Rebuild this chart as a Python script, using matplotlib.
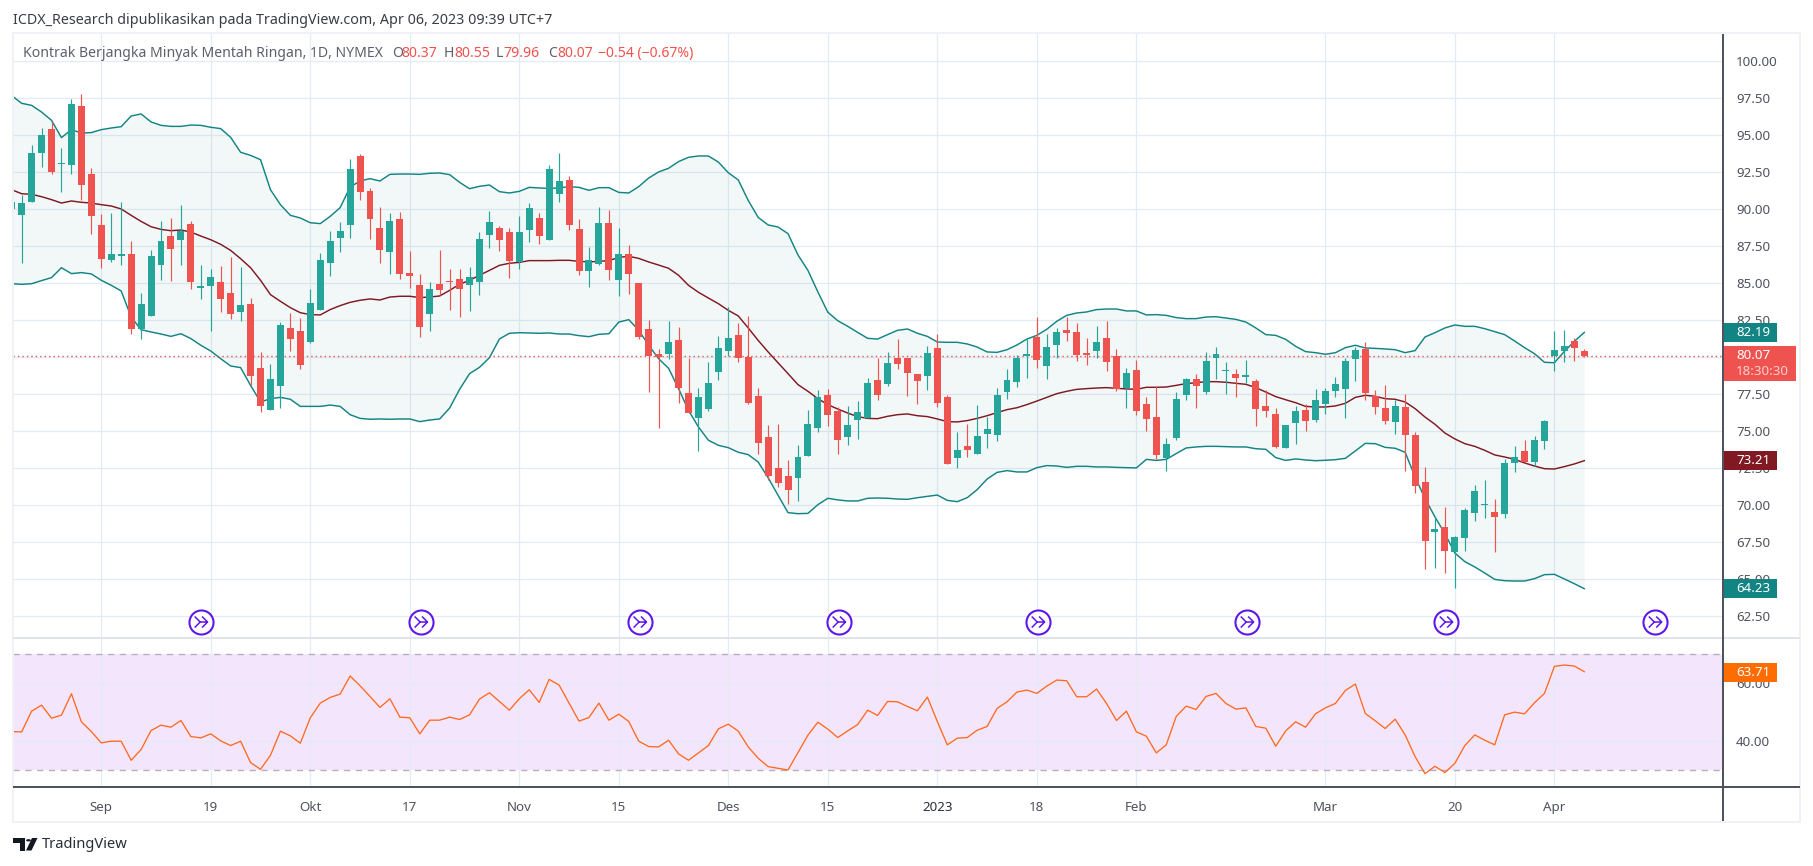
import matplotlib
matplotlib.use("Agg")
import matplotlib.pyplot as plt
from matplotlib.patches import Rectangle, Polygon, Circle
from matplotlib.path import Path

plt.rcParams['font.family'] = ['Noto Sans', 'DejaVu Sans']

# ---------- data ----------
opens = [89.95,89.55,90.47,93.74,95.36,93.0,92.93,96.91,92.32,88.87,86.51,86.78,86.91,81.85,82.72,86.17,88.13,87.86,88.94,84.64,
 84.75,85.02,84.28,83.0,83.54,79.21,76.37,77.99,81.91,81.71,80.97,83.13,86.31,87.99,88.87,93.54,91.17,88.67,87.05,89.28,
 85.63,84.82,82.86,84.89,85.1,85.23,84.82,85.02,88.2,88.67,88.4,86.37,88.54,89.35,87.86,90.97,91.91,88.6,85.77,86.24,
 89.01,85.16,86.91,84.95,81.85,80.2,80.16,81.1,77.52,75.83,76.44,78.94,80.37,81.45,79.96,77.32,74.55,72.46,71.93,71.77,
 73.27,75.2,77.39,76.3,74.55,75.7,75.83,78.4,78.13,79.89,79.89,78.81,78.67,80.56,77.25,73.13,73.94,73.4,74.75,74.68,
 77.59,78.27,80.02,81.31,79.35,80.77,81.78,81.65,80.23,80.4,81.24,80.03,77.86,79.08,76.78,75.9,73.13,74.48,77.39,78.47,
 77.59,79.89,79.01,78.81,78.6,78.33,76.64,76.1,73.8,75.5,76.37,75.7,76.78,77.66,77.79,79.82,80.5,77.32,76.51,75.56,
 76.58,74.68,71.51,68.13,68.47,66.78,67.73,69.41,69.98,69.48,69.35,72.79,73.6,72.86,74.28,80.05,80.36,81.04,80.37]
highs = [90.43,90.9,94.28,95.43,95.86,94.08,97.41,97.73,92.73,89.62,89.68,90.43,87.8,84.28,87.18,89.14,89.35,90.23,89.14,86.17,
 85.9,86.1,86.71,86.04,83.94,80.29,79.48,82.32,82.93,82.59,84.55,86.98,88.47,89.08,93.33,93.67,91.37,90.09,89.68,89.75,
 87.12,85.56,85.02,87.18,85.9,85.9,86.04,88.4,89.82,88.81,88.67,89.48,90.36,89.68,92.93,93.74,92.18,89.28,87.39,90.09,
 89.89,88.67,87.52,84.95,82.45,80.5,82.39,81.98,79.89,77.86,79.62,81.38,83.35,82.3,82.75,77.86,75.36,75.43,73.0,74.0,
 76.37,77.72,77.79,76.58,76.64,76.98,78.58,79.89,80.29,81.17,79.89,78.81,80.7,81.51,77.39,74.89,75.43,76.71,75.9,77.86,
 79.14,80.09,81.17,82.66,81.51,81.92,82.66,82.25,81.24,82.09,82.43,80.5,79.21,79.75,77.25,78.0,74.48,77.59,78.54,78.81,
 80.29,80.63,79.62,79.14,79.75,78.47,77.72,76.51,75.36,76.64,76.78,77.79,77.86,78.6,79.89,80.63,80.97,77.73,78.06,77.05,
 77.45,74.89,72.52,69.14,69.82,67.86,69.75,71.31,71.64,70.36,73.06,73.94,74.35,74.62,75.7,81.71,81.78,81.24,80.55]
lows = [89.95,86.3,90.45,92.79,92.32,91.1,92.32,90.56,88.27,85.97,86.4,86.17,81.53,81.17,82.72,85.16,85.09,86.17,84.55,83.87,
 81.71,83.0,82.52,82.39,78.06,76.24,76.37,76.51,80.36,79.14,80.9,83.13,85.43,87.05,88.0,90.56,87.93,86.3,85.56,85.23,
 84.62,81.31,81.71,84.14,83.13,82.66,83.06,84.14,87.32,87.12,85.29,85.9,87.73,87.59,87.86,90.43,88.54,85.5,84.68,86.17,
 85.16,84.08,84.21,81.17,77.59,75.2,79.82,76.84,76.17,73.6,76.3,78.4,80.03,79.62,76.77,73.4,71.64,71.17,70.02,70.22,
 73.27,74.9,75.29,73.4,74.0,74.41,75.83,77.05,78.0,79.14,77.32,76.78,77.73,76.58,72.73,72.45,73.2,73.4,73.85,74.28,
 77.12,77.93,78.54,79.22,78.48,79.89,81.05,79.68,79.41,79.89,79.0,77.66,76.51,76.03,74.95,73.06,72.25,74.35,77.05,76.51,
 77.45,78.47,77.45,77.25,78.2,75.29,75.9,73.8,73.8,74.08,74.95,75.56,76.1,77.25,75.83,78.33,77.05,76.1,75.43,74.75,
 72.25,70.77,65.63,65.7,65.36,64.35,66.85,68.87,69.08,66.78,69.08,72.18,72.86,72.59,73.74,79.0,79.62,79.68,79.96]
closes = [90.43,90.36,93.74,94.95,92.45,93.06,97.05,91.58,89.48,86.58,86.91,86.91,81.87,83.54,86.78,87.79,87.25,88.47,85.02,84.75,
 85.36,83.87,82.86,83.47,78.67,76.64,78.47,82.12,81.17,79.41,83.6,86.51,87.79,88.47,92.66,91.1,89.28,87.18,89.14,85.56,
 85.43,81.98,84.55,84.48,85.02,84.55,85.36,87.93,89.08,87.86,86.44,88.4,90.02,88.13,92.66,91.85,88.87,85.77,86.51,89.01,
 85.83,86.91,85.56,81.31,80.02,79.95,80.97,77.86,76.17,77.25,78.2,80.57,81.25,79.89,76.85,74.14,71.91,71.44,70.98,73.2,
 75.43,77.25,76.03,74.35,75.36,76.23,78.25,77.39,79.55,79.49,78.87,78.33,80.23,76.85,72.73,73.67,73.67,74.62,75.09,77.39,
 78.4,79.89,80.16,79.76,80.64,81.65,81.58,80.09,80.09,81.01,79.62,77.79,78.87,76.31,75.77,73.33,74.08,77.12,78.47,78.0,
 79.68,80.16,79.08,78.54,78.74,76.44,76.31,73.87,75.36,76.31,75.63,77.05,77.66,78.13,79.68,80.43,77.52,76.58,75.63,76.64,
 74.68,71.24,67.52,68.33,66.85,67.79,69.62,70.9,70.05,69.14,72.79,73.2,72.86,74.35,75.63,80.43,80.7,80.56,80.07]
bb_upper = [97.64,97.12,96.98,96.53,95.97,94.8,95.34,95.11,95.14,95.34,95.45,95.54,96.26,96.4,95.86,95.63,95.56,95.56,95.65,95.63,
 95.5,95.41,94.82,93.81,93.6,93.31,91.28,90.27,89.55,89.37,89.05,88.99,89.48,90.07,91.46,91.87,92.03,91.87,92.32,92.34,
 92.34,92.32,92.39,92.41,92.3,91.78,91.35,91.51,91.6,91.15,91.06,91.17,91.44,91.4,91.37,91.4,91.49,91.44,91.24,91.42,
 91.42,91.1,91.06,91.49,92.07,92.48,92.73,93.18,93.47,93.56,93.56,93.15,92.43,91.94,90.56,89.41,88.9,88.76,88.31,86.87,
 85.83,84.37,83.0,82.43,82.05,81.64,81.24,81.19,81.49,81.78,81.87,81.58,81.37,80.99,80.97,80.97,80.86,80.65,80.32,80.29,
 80.47,80.79,81.19,81.44,81.85,82.39,82.79,82.95,83.02,83.18,83.22,83.22,83.09,83.09,82.82,82.84,82.79,82.64,82.57,82.57,
 82.68,82.7,82.61,82.52,82.34,81.94,81.49,81.44,81.17,80.7,80.34,80.27,80.16,80.27,80.61,80.77,80.59,80.56,80.52,80.47,
 80.27,80.41,81.33,81.62,81.94,82.14,82.05,82.05,81.89,81.69,81.49,81.06,80.61,80.2,79.62,79.59,80.36,81.03,81.64]
bb_basis = [91.28,91.01,90.97,90.81,90.61,90.38,90.52,90.43,90.38,90.27,90.18,89.98,89.55,89.14,88.78,88.6,88.51,88.56,88.42,88.15,
 87.9,87.59,87.18,86.62,86.01,85.16,84.19,83.74,83.31,82.97,82.84,82.82,83.18,83.45,83.67,83.81,83.9,83.83,84.03,84.08,
 84.08,83.99,84.03,84.1,84.48,84.89,85.16,85.5,85.83,86.17,86.31,86.37,86.49,86.49,86.49,86.51,86.51,86.44,86.4,86.44,
 86.49,86.71,86.78,86.64,86.4,86.19,85.97,85.5,84.82,84.35,83.96,83.58,83.13,82.75,81.94,81.1,80.32,79.59,78.85,78.11,
 77.66,77.16,76.76,76.46,76.19,75.95,75.83,75.81,75.97,76.08,76.13,76.01,75.95,75.79,75.61,75.59,75.68,75.83,76.01,76.22,
 76.42,76.55,76.76,77.0,77.25,77.5,77.66,77.79,77.84,77.88,77.91,77.86,77.82,77.79,77.93,77.93,77.95,78.06,78.18,78.24,
 78.31,78.31,78.27,78.2,78.13,77.91,77.61,77.3,77.09,76.89,76.64,76.6,76.6,76.67,76.85,77.25,77.39,77.32,77.16,77.12,
 76.94,76.49,75.92,75.43,74.84,74.44,74.12,73.94,73.67,73.36,73.22,73.06,72.82,72.61,72.43,72.41,72.57,72.75,72.97]
bb_lower = [84.93,84.89,84.93,85.14,85.34,86.01,85.61,85.68,85.59,85.16,84.82,84.44,82.68,81.82,81.67,81.53,81.37,81.55,81.22,80.77,
 80.38,79.86,79.37,79.26,78.06,76.94,77.16,77.25,77.12,76.64,76.64,76.64,76.73,76.64,76.08,75.83,75.77,75.79,75.77,75.79,
 75.79,75.61,75.72,75.79,76.53,77.79,78.85,79.28,79.93,81.19,81.58,81.62,81.6,81.58,81.6,81.53,81.53,81.42,81.35,81.51,
 81.55,82.34,82.5,81.78,80.77,79.86,79.21,77.84,76.37,75.25,74.35,74.01,73.85,73.54,73.38,72.88,71.82,70.63,69.46,69.39,
 69.41,70.0,70.43,70.32,70.25,70.25,70.43,70.45,70.43,70.38,70.36,70.47,70.56,70.65,70.29,70.2,70.47,71.01,71.73,72.18,
 72.3,72.21,72.21,72.5,72.64,72.61,72.52,72.59,72.59,72.55,72.55,72.52,72.5,72.48,73.06,72.99,73.06,73.45,73.83,73.9,
 73.94,73.94,73.92,73.9,73.9,73.78,73.74,73.18,72.99,73.09,73.02,72.97,73.0,73.04,73.13,73.63,74.14,74.12,73.87,73.81,
 73.54,71.87,70.41,69.17,68.04,66.73,66.15,65.79,65.38,64.95,64.86,64.84,64.84,65.0,65.27,65.29,64.98,64.66,64.32]
rsi = [43.33,43.2,50.34,52.41,47.93,48.97,56.32,46.67,43.33,39.43,40.0,40.0,33.45,37.13,43.68,45.52,44.83,47.13,41.61,41.15,
 42.53,40.11,38.51,40.0,32.64,30.34,35.17,43.45,41.84,39.31,48.05,53.1,55.06,56.21,62.41,59.08,55.4,51.61,54.6,48.28,
 48.05,42.53,47.24,47.24,48.28,47.47,49.08,54.48,56.67,53.68,50.69,54.6,57.7,53.33,61.26,59.31,53.1,46.9,48.16,53.1,
 47.24,49.31,46.78,40.0,38.16,38.05,40.34,35.63,33.45,35.98,38.51,44.25,45.86,43.45,38.05,34.14,31.26,30.69,30.11,36.09,
 42.07,46.55,44.14,41.26,43.56,45.75,50.69,48.85,53.68,53.56,51.95,50.46,55.17,46.78,38.74,41.03,41.26,43.79,45.06,51.26,
 53.56,56.9,57.59,56.44,58.97,61.03,60.8,55.29,55.29,57.93,52.99,47.13,50.34,43.22,41.72,35.98,38.74,48.51,52.07,50.92,
 55.4,56.44,52.99,51.03,51.49,45.06,44.48,38.28,43.56,46.67,44.83,49.43,51.49,52.99,57.47,59.66,49.54,47.01,44.37,47.59,
 42.18,34.71,28.85,31.38,29.2,32.41,38.51,42.18,40.34,38.74,49.08,50.0,49.43,53.22,56.44,65.75,66.2,65.86,63.91]

price_ticks = [62.5, 65, 67.5, 70, 72.5, 75, 77.5, 80, 82.5, 85, 87.5, 90, 92.5, 95, 97.5, 100]
rsi_ticks = [40, 60]
rsi_bounds = [30, 70]
last_close = 80.07
time_tick_bars = [9, 20, 30, 40, 51, 61, 72, 82, 93, 103, 113, 132, 145, 155]
time_tick_labels = ['Sep', '19', 'Okt', '17', 'Nov', '15', 'Des', '15', '2023', '18', 'Feb', 'Mar', '20', 'Apr']
event_bars = [19.0, 41.1, 63.1, 83.1, 103.1, 124.1, 144.1, 165.1]
event_level = 62.07

for s in (highs, lows, closes, bb_upper, bb_basis, bb_lower, rsi):
    assert len(s) == len(opens), len(s)

# ---------- layout ----------
W, H = 1813, 866
fig = plt.figure(figsize=(W / 100, H / 100), dpi=100, facecolor='white')

def box(l, t, r, b):
    return [l / W, 1 - b / H, (r - l) / W, (b - t) / H]

def fx(x): return x / W
def fy(y): return 1 - y / H

GREEN, RED = '#26A69A', '#EF5350'
TEAL, MAROON, ORANGE = '#138484', '#801922', '#FF6A1F'
GRID, TXT = '#E3ECF2', '#50535E'
bar_px, x0_px = 9.953, 11.7
xlim = ((13 - x0_px) / bar_px, (1723 - x0_px) / bar_px)

ax = fig.add_axes(box(13, 33, 1723, 638))
ax2 = fig.add_axes(box(13, 638, 1723, 787), sharex=ax)
ax.set_xlim(*xlim)
ax.set_ylim(60.99, 101.87)
ax2.set_ylim(24.25, 75.5)

for a in (ax, ax2):
    for s in a.spines.values():
        s.set_visible(False)
    a.set_axisbelow(True)
    a.grid(True, color=GRID, lw=0.9)
    a.yaxis.tick_right()
    a.tick_params(length=0, labelcolor=TXT, labelsize=9.6)
    a.tick_params(axis='y', pad=9.4)

ax.set_yticks(price_ticks, [f'{v:.2f}' for v in price_ticks])
ax2.set_yticks(rsi_ticks, [f'{v:.2f}' for v in rsi_ticks])
ax.tick_params(axis='x', labelbottom=False)
ax2.tick_params(axis='x', pad=10, labelsize=9.6)
ax2.set_xticks(time_tick_bars, time_tick_labels)

idx = list(range(len(opens)))

# Bollinger bands
ax.fill_between(idx, bb_lower, bb_upper, color=TEAL, alpha=0.05, lw=0, zorder=1)
ax.plot(idx, bb_upper, color=TEAL, lw=1.05, zorder=2)
ax.plot(idx, bb_lower, color=TEAL, lw=1.05, zorder=2)
ax.plot(idx, bb_basis, color=MAROON, lw=1.05, zorder=2)

# last price line
ax.axhline(last_close, color=RED, lw=1.0, ls=(0, (1, 2.2)), zorder=2)

# candles
cols = [GREEN if c >= o else RED for o, c in zip(opens, closes)]
ax.vlines(idx, lows, highs, colors=cols, lw=0.85, zorder=3)
ax.bar(idx, [max(abs(c - o), 0.07) for o, c in zip(opens, closes)],
       bottom=[min(o, c) for o, c in zip(opens, closes)],
       width=0.7, color=cols, lw=0, zorder=4)

# events
fork = Path([(-0.5, 0.45), (-0.05, 0), (-0.5, -0.45), (0.1, 0.45), (0.55, 0), (0.1, -0.45), (-0.05, 0), (0.55, 0)],
            [Path.MOVETO, Path.LINETO, Path.LINETO, Path.MOVETO, Path.LINETO, Path.LINETO, Path.MOVETO, Path.LINETO])
ev_y = [event_level] * len(event_bars)
ax.scatter(event_bars, ev_y, s=300, facecolor='white', edgecolor='#5E17EB', lw=1.5, zorder=5)
ax.scatter(event_bars, ev_y, s=95, marker=fork, facecolor='none', edgecolor='#5E17EB', lw=1.1, zorder=6)

# RSI pane
ax2.axhspan(rsi_bounds[0], rsi_bounds[1], color='#9105EB', alpha=0.10, lw=0, zorder=0.5)
for b in rsi_bounds:
    ax2.axhline(b, color='#B9AEBF', lw=1.0, ls=(0, (4.5, 4)), zorder=2)
ax2.plot(idx, rsi, color=ORANGE, lw=0.95, zorder=3)

# the year label is bold, as in the reference
fig.canvas.draw()
for tick, name in zip(ax2.xaxis.get_major_ticks(), time_tick_labels):
    if name == '2023':
        tick.label1.set_fontweight('bold')
        tick.label1.set_color('#2A2E39')

# ---------- frame and separators ----------
def frect(l, t, r, b, **kw):
    p = Rectangle((fx(l), fy(b)), (r - l) / W, (b - t) / H, transform=fig.transFigure, **kw)
    fig.add_artist(p)
    return p

for (l, t, r, b) in [(12, 32, 1801, 34), (12, 821, 1801, 823), (12, 32, 14, 823), (1799, 32, 1801, 823)]:
    frect(l, t, r, b, color='#EFF1F6', lw=0, zorder=2)
frect(13, 637.3, 1800, 638.7, color='#E0E3EB', lw=0, zorder=2)
frect(1722.4, 34, 1723.6, 821, color='#50535E', lw=0, zorder=2)
frect(13, 786.4, 1800, 787.6, color='#50535E', lw=0, zorder=2)

# ---------- value labels ----------
def value_label(t, b, r, color, text):
    frect(1723.5, t, r, b, color=color, lw=0, zorder=5)
    fig.text(fx(1736), fy((t + b) / 2), text, color='white', fontsize=9.6, va='center', ha='left', zorder=6)

value_label(323, 342, 1777, TEAL, '82.19')
value_label(451, 470, 1777, MAROON, '73.21')
value_label(579, 598, 1777, TEAL, '64.23')
value_label(663, 682, 1777, '#FF6D00', '63.71')
frect(1723.5, 346, 1796, 381, color=RED, lw=0, zorder=5)
fig.text(fx(1736), fy(355.5), '80.07', color='white', fontsize=9.6, va='center', ha='left', zorder=6)
fig.text(fx(1736), fy(372), '18:30:30', color='#FAD0CE', fontsize=9.6, va='center', ha='left', zorder=6)

# ---------- header text ----------
fig.text(fx(13), fy(20), 'ICDX_Research dipublikasikan pada TradingView.com, Apr 06, 2023 09:39 UTC+7',
         color='#3A3D47', fontsize=10.3, va='center', ha='left')
GREY = '#5D606B'
fig.text(fx(23), fy(53.5), 'Kontrak Berjangka Minyak Mentah Ringan, 1D, NYMEX', color=GREY, fontsize=10.1, va='center', ha='left', zorder=6)
legend_items = [(392, 'O', GREY), (401, '80.37', RED), (444, 'H', GREY), (454, '80.55', RED),
                (496, 'L', GREY), (503, '79.96', RED), (548, 'C', GREY), (557, '80.07', RED),
                (598, '\u22120.54 (\u22120.67%)', RED)]
for x, s, c in legend_items:
    fig.text(fx(x), fy(53.5), s, color=c, fontsize=10.1, va='center', ha='left', zorder=6)

# ---------- TradingView logo ----------
K = '#131722'
frect(13, 838, 25, 842.5, color=K, lw=0, zorder=6)
frect(19.5, 838, 25, 850.5, color=K, lw=0, zorder=6)
fig.add_artist(Circle((fx(28.5), fy(840.3)), 2.4 / W, transform=fig.transFigure, color=K, lw=0, zorder=6))
fig.add_artist(Polygon([(fx(32), fy(838)), (fx(37.5), fy(838)), (fx(31.5), fy(850.5)), (fx(26), fy(850.5))],
                       closed=True, transform=fig.transFigure, color=K, lw=0, zorder=6))
fig.text(fx(42), fy(844.5), 'TradingView', color='#2A2E39', fontsize=10.6, va='center', ha='left')

fig.savefig('out.png', dpi=100, facecolor='white')
